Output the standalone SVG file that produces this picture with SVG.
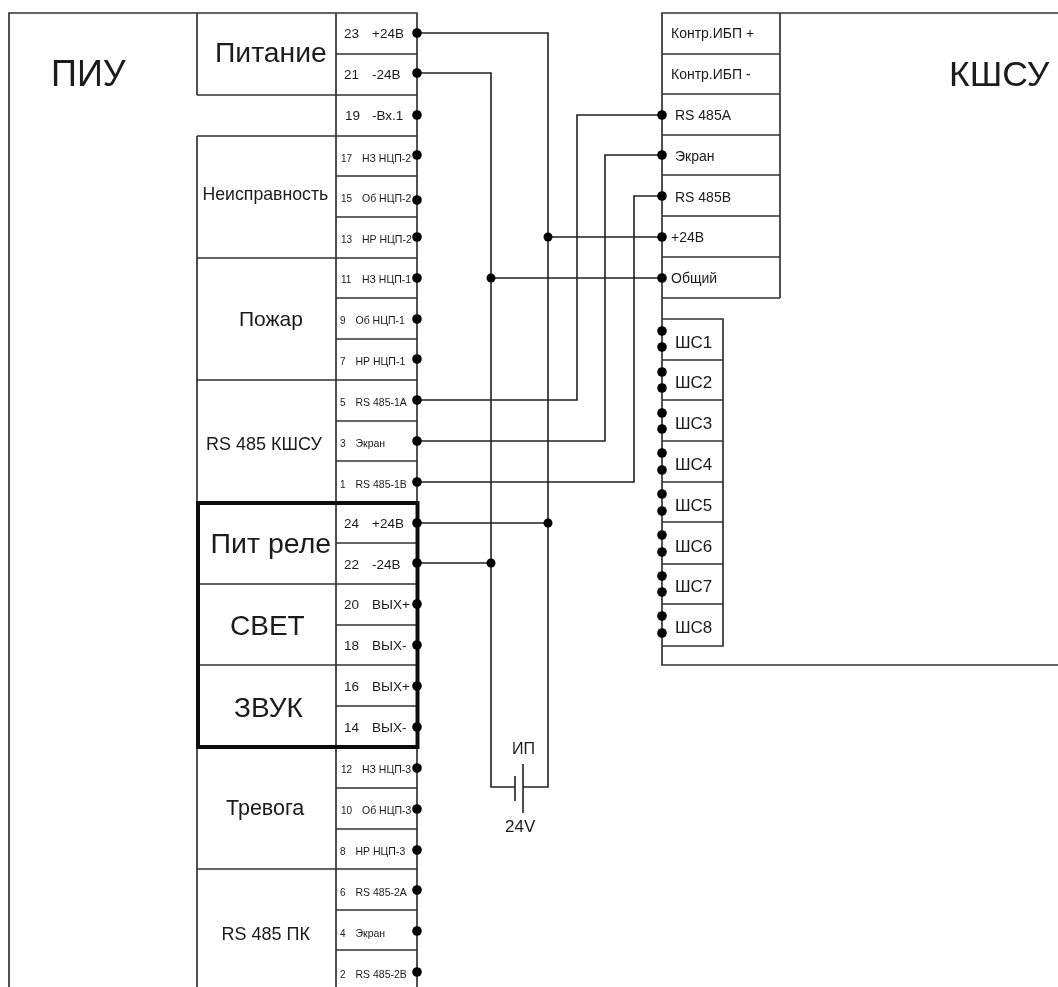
<svg xmlns="http://www.w3.org/2000/svg" width="1058" height="987" viewBox="0 0 1058 987">
<defs><filter id="soft" filterUnits="userSpaceOnUse" x="0" y="0" width="1058" height="987"><feGaussianBlur stdDeviation="0.4"/></filter></defs>
<style>
text{font-family:"Liberation Sans",Arial,sans-serif;fill:#1a1a1a}
.l{fill:none;stroke:#333;stroke-width:1.7}
.w{fill:none;stroke:#222;stroke-width:1.6}
.b{fill:none;stroke:#111;stroke-width:4}
.d{fill:#000}
.n{font-size:10px}.t{font-size:10.5px}.m{font-size:13.5px}.r{font-size:14px}.sh{font-size:17px}
</style>
<rect width="1058" height="987" fill="#fff"/>
<g filter="url(#soft)">
<g id="piu">
<path class="l" d="M9 987V13H417V987M197 13V95M197 136V987M336 13V987M197 95H417M197 136H417M336 54H417M336 176H417M336 217H417M197 258H417M336 298H417M336 339H417M197 380H417M336 421H417M336 461H417M336 543H417M197 584H417M336 625H417M197 665H417M336 706H417M336 788H417M336 829H417M197 869H417M336 910H417M336 950H417"/>
<text font-size="36" x="51" y="86">ПИУ</text>
</g>
<g id="relay-frame"><rect class="b" x="198" y="503" width="219.500" height="244"/></g>
<g id="group-titles">
<text font-size="28.300" x="215" y="62">Питание</text>
<text font-size="17.700" x="202.500" y="200">Неисправность</text>
<text font-size="21" x="239" y="326">Пожар</text>
<text font-size="18" x="206" y="450">RS 485 КШСУ</text>
<text font-size="28.500" x="210.500" y="553">Пит реле</text>
<text font-size="28" x="230" y="635">СВЕТ</text>
<text font-size="28" x="234" y="717">ЗВУК</text>
<text font-size="21.500" x="226" y="815">Тревога</text>
<text font-size="18" x="221.500" y="940">RS 485 ПК</text>
</g>
<g id="terminals">
<text class="m" x="344" y="38">23</text><text class="m" x="372" y="38">+24В</text>
<text class="m" x="344" y="79">21</text><text class="m" x="372" y="79">-24В</text>
<text class="m" x="345" y="120">19</text><text class="m" x="372" y="120">-Вх.1</text>
<text class="n" x="341" y="162">17</text><text class="t" x="362" y="162">НЗ НЦП-2</text>
<text class="n" x="341" y="202">15</text><text class="t" x="362" y="202">Об НЦП-2</text>
<text class="n" x="341" y="243">13</text><text class="t" x="362" y="243">НР НЦП-2</text>
<text class="n" x="341" y="283">11</text><text class="t" x="362" y="283">НЗ НЦП-1</text>
<text class="n" x="340" y="324">9</text><text class="t" x="355.500" y="324">Об НЦП-1</text>
<text class="n" x="340" y="365">7</text><text class="t" x="355.500" y="365">НР НЦП-1</text>
<text class="n" x="340" y="406">5</text><text class="t" x="355.500" y="406">RS 485-1А</text>
<text class="n" x="340" y="447">3</text><text class="t" x="355.500" y="447">Экран</text>
<text class="n" x="340" y="488">1</text><text class="t" x="355.500" y="488">RS 485-1В</text>
<text class="m" x="344" y="528">24</text><text class="m" x="372" y="528">+24В</text>
<text class="m" x="344" y="569">22</text><text class="m" x="372" y="569">-24В</text>
<text class="m" x="344" y="609">20</text><text class="m" x="372" y="609">ВЫХ+</text>
<text class="m" x="344" y="650">18</text><text class="m" x="372" y="650">ВЫХ-</text>
<text class="m" x="344" y="691">16</text><text class="m" x="372" y="691">ВЫХ+</text>
<text class="m" x="344" y="732">14</text><text class="m" x="372" y="732">ВЫХ-</text>
<text class="n" x="341" y="773">12</text><text class="t" x="362" y="773">НЗ НЦП-3</text>
<text class="n" x="341" y="814">10</text><text class="t" x="362" y="814">Об НЦП-3</text>
<text class="n" x="340" y="855">8</text><text class="t" x="355.500" y="855">НР НЦП-3</text>
<text class="n" x="340" y="896">6</text><text class="t" x="355.500" y="896">RS 485-2А</text>
<text class="n" x="340" y="937">4</text><text class="t" x="355.500" y="937">Экран</text>
<text class="n" x="340" y="978">2</text><text class="t" x="355.500" y="978">RS 485-2В</text>
</g>
<g id="kshsu">
<path class="l" d="M1058 13H662V665H1058M780 13V298M662 54H780M662 94H780M662 135H780M662 175H780M662 216H780M662 257H780M662 298H780"/>
<path class="l" d="M662 319H723V646H662M662 360H723M662 400H723M662 441H723M662 482H723M662 522H723M662 564H723M662 604H723"/>
<text font-size="35.500" x="949" y="86">КШСУ</text>
<text class="r" x="671" y="38">Контр.ИБП +</text>
<text class="r" x="671" y="79">Контр.ИБП -</text>
<text class="r" x="675" y="120">RS 485A</text>
<text class="r" x="675" y="161">Экран</text>
<text class="r" x="675" y="202">RS 485B</text>
<text class="r" x="671" y="242">+24В</text>
<text class="r" x="671" y="283">Общий</text>
<text class="sh" x="675" y="348">ШС1</text>
<text class="sh" x="675" y="388">ШС2</text>
<text class="sh" x="675" y="429">ШС3</text>
<text class="sh" x="675" y="470">ШС4</text>
<text class="sh" x="675" y="511">ШС5</text>
<text class="sh" x="675" y="552">ШС6</text>
<text class="sh" x="675" y="592">ШС7</text>
<text class="sh" x="675" y="633">ШС8</text>
</g>
<g id="connectors">
<path class="w" d="M417 33H548V787H523M417 73H491V787H515M417 400H577V115H662M417 441H605V155H662M417 482H634V196H662M548 237H662M491 278H662M417 523H548M417 563H491"/>
</g>
<g id="battery">
<path class="w" d="M515 776V801M523 764V813"/>
<text font-size="16" x="512" y="754">ИП</text>
<text font-size="17" x="505" y="832">24V</text>
</g>
<g id="dots" class="d">
<circle cx="417" cy="33" r="4.8"/><circle cx="417" cy="73" r="4.8"/><circle cx="417" cy="115" r="4.8"/><circle cx="417" cy="155" r="4.8"/><circle cx="417" cy="200" r="4.8"/><circle cx="417" cy="237" r="4.8"/><circle cx="417" cy="278" r="4.8"/><circle cx="417" cy="319" r="4.8"/><circle cx="417" cy="359" r="4.8"/><circle cx="417" cy="400" r="4.8"/><circle cx="417" cy="441" r="4.8"/><circle cx="417" cy="482" r="4.8"/><circle cx="417" cy="523" r="4.8"/><circle cx="417" cy="563" r="4.8"/><circle cx="417" cy="604" r="4.8"/><circle cx="417" cy="645" r="4.8"/><circle cx="417" cy="686" r="4.8"/><circle cx="417" cy="727" r="4.8"/><circle cx="417" cy="768" r="4.8"/><circle cx="417" cy="809" r="4.8"/><circle cx="417" cy="850" r="4.8"/><circle cx="417" cy="890" r="4.8"/><circle cx="417" cy="931" r="4.8"/><circle cx="417" cy="972" r="4.8"/>
<circle cx="662" cy="115" r="4.8"/><circle cx="662" cy="155" r="4.8"/><circle cx="662" cy="196" r="4.8"/><circle cx="662" cy="237" r="4.8"/><circle cx="662" cy="278" r="4.8"/>
<circle cx="662" cy="331" r="4.8"/><circle cx="662" cy="347" r="4.8"/><circle cx="662" cy="372" r="4.8"/><circle cx="662" cy="388" r="4.8"/><circle cx="662" cy="413" r="4.8"/><circle cx="662" cy="429" r="4.8"/><circle cx="662" cy="453" r="4.8"/><circle cx="662" cy="470" r="4.8"/><circle cx="662" cy="494" r="4.8"/><circle cx="662" cy="511" r="4.8"/><circle cx="662" cy="535" r="4.8"/><circle cx="662" cy="552" r="4.8"/><circle cx="662" cy="576" r="4.8"/><circle cx="662" cy="592" r="4.8"/><circle cx="662" cy="616" r="4.8"/><circle cx="662" cy="633" r="4.8"/>
<circle cx="548" cy="237" r="4.5"/><circle cx="491" cy="278" r="4.5"/><circle cx="548" cy="523" r="4.5"/><circle cx="491" cy="563" r="4.5"/>
</g>
</g>
</svg>
